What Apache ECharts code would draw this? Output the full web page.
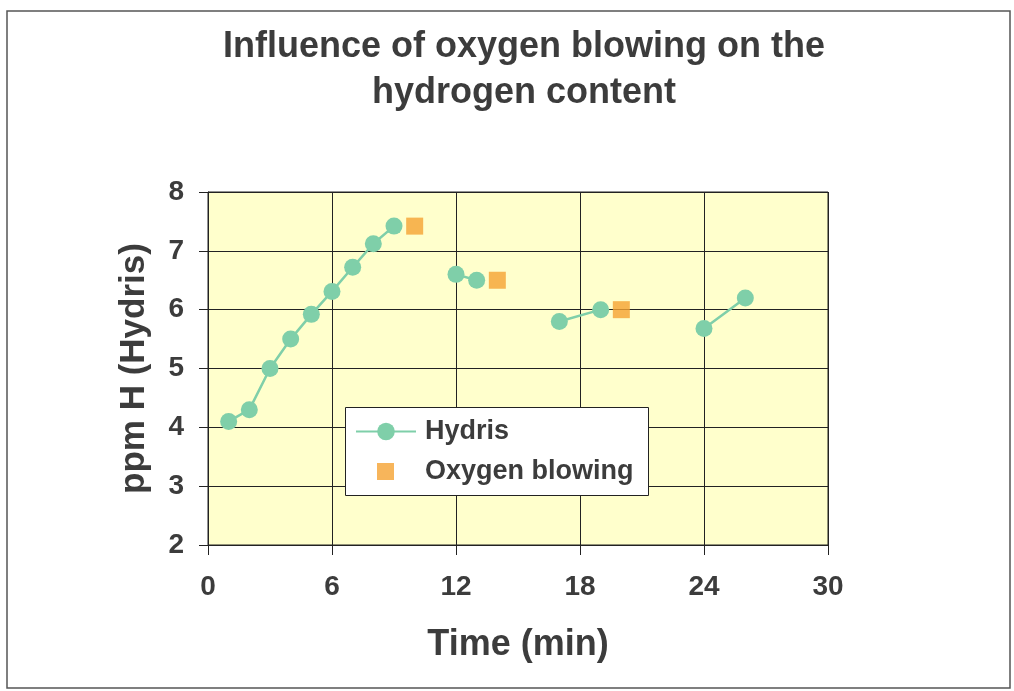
<!DOCTYPE html>
<html>
<head>
<meta charset="utf-8">
<script src="https://cdn.jsdelivr.net/npm/echarts@6/dist/echarts.min.js"></script>
<style>
  html, body { margin: 0; padding: 0; background: #fff; }
  #chart { width: 1014px; height: 691px; }
</style>
</head>
<body>
<div id="chart"></div>
<script>
// Hydris readings (null = no reading, line breaks there)
var hydrisTime = [1, 2, 3, 4, 5, 6, 7, 8, 9, 10, 12, 13, 14, 17, 19, 20, 24, 26];
var hydrisPpm  = [4.1, 4.3, 5.0, 5.5, 5.92, 6.31, 6.72, 7.12, 7.42, null, 6.6, 6.5, null, 5.8, 6.0, null, 5.68, 6.2];

// oxygen blowing moments
var blowTime = [10, 14, 20];
var blowPpm  = [7.42, 6.5, 6.0];

var xTicks = [0, 6, 12, 18, 24, 30];
var yTicks = [2, 3, 4, 5, 6, 7, 8];

var textColor = '#3c3c3c';
var fontFam = 'Liberation Sans, Arial, sans-serif';
var green = '#7fcfa9';
var orange = '#f5a232';

var myChart = echarts.init(document.getElementById('chart'));

var hydrisData = hydrisTime.map(function (t, i) {
    return [t, hydrisPpm[i] === null ? '-' : hydrisPpm[i]];
});
var blowData = blowTime.map(function (t, i) {
    return [t, blowPpm[i]];
});

function legendText(padLeft) {
    return {
        fontFamily: fontFam,
        fontSize: 27,
        fontWeight: 'bold',
        color: textColor,
        padding: [0, 0, 0, padLeft]
    };
}

var option = {
    backgroundColor: '#fff',
    animation: false,
    title: {
        text: 'Influence of oxygen blowing on the\nhydrogen content',
        left: 519,
        textAlign: 'center',
        top: 19,
        textStyle: {
            fontFamily: fontFam,
            fontSize: 36,
            fontWeight: 'bold',
            color: textColor,
            lineHeight: 46
        }
    },
    graphic: [{
        // outer frame
        type: 'rect',
        shape: { x: 7, y: 11, width: 1003, height: 677 },
        style: { fill: 'none', stroke: '#555', lineWidth: 1.5 },
        silent: true
    }, {
        // legend box
        type: 'rect',
        z: 3,
        shape: { x: 345.5, y: 407.5, width: 303, height: 88 },
        style: { fill: '#fff', stroke: '#222', lineWidth: 1 },
        silent: true
    }],
    legend: [{
        left: 355,
        top: 418,
        padding: 0,
        itemWidth: 60,
        itemHeight: 22,
        textStyle: legendText(4),
        data: ['Hydris']
    }, {
        left: 377,
        top: 458,
        padding: 0,
        itemWidth: 17,
        itemHeight: 17,
        textStyle: legendText(26),
        data: [{ name: 'Oxygen blowing', icon: 'rect' }]
    }],
    grid: {
        left: 208,
        right: 186,
        top: 192,
        bottom: 146,
        show: true,
        backgroundColor: '#ffffcc',
        borderColor: '#222',
        borderWidth: 1
    },
    xAxis: {
        type: 'value',
        min: xTicks[0],
        max: xTicks[xTicks.length - 1],
        interval: 6,
        name: 'Time (min)',
        nameLocation: 'middle',
        nameGap: 82,
        nameTextStyle: {
            fontFamily: fontFam,
            fontSize: 36,
            fontWeight: 'bold',
            color: textColor
        },
        axisLine: { lineStyle: { color: '#222', width: 1 } },
        axisTick: { show: true, length: 10, lineStyle: { color: '#222' } },
        axisLabel: {
            margin: 28,
            fontFamily: fontFam,
            fontSize: 28,
            fontWeight: 'bold',
            color: textColor
        },
        splitLine: { show: true, lineStyle: { color: '#222', width: 1 } }
    },
    yAxis: {
        type: 'value',
        min: yTicks[0],
        max: yTicks[yTicks.length - 1],
        interval: 1,
        name: 'ppm H (Hydris)',
        nameLocation: 'middle',
        nameGap: 56,
        nameTextStyle: {
            fontFamily: fontFam,
            fontSize: 35,
            fontWeight: 'bold',
            color: textColor
        },
        axisLine: { show: true, lineStyle: { color: '#222', width: 1 } },
        axisTick: { show: true, length: 9, lineStyle: { color: '#222' } },
        axisLabel: {
            margin: 24,
            fontFamily: fontFam,
            fontSize: 28,
            fontWeight: 'bold',
            color: textColor
        },
        splitLine: { show: true, lineStyle: { color: '#222', width: 1 } }
    },
    series: [{
        name: 'Hydris',
        type: 'line',
        data: hydrisData,
        connectNulls: false,
        symbol: 'circle',
        symbolSize: 17,
        itemStyle: { color: green },
        lineStyle: { color: green, width: 2.5 }
    }, {
        name: 'Oxygen blowing',
        type: 'scatter',
        data: blowData,
        symbol: 'rect',
        symbolSize: 17,
        itemStyle: { color: orange }
    }]
};

myChart.setOption(option);
</script>
</body>
</html>
